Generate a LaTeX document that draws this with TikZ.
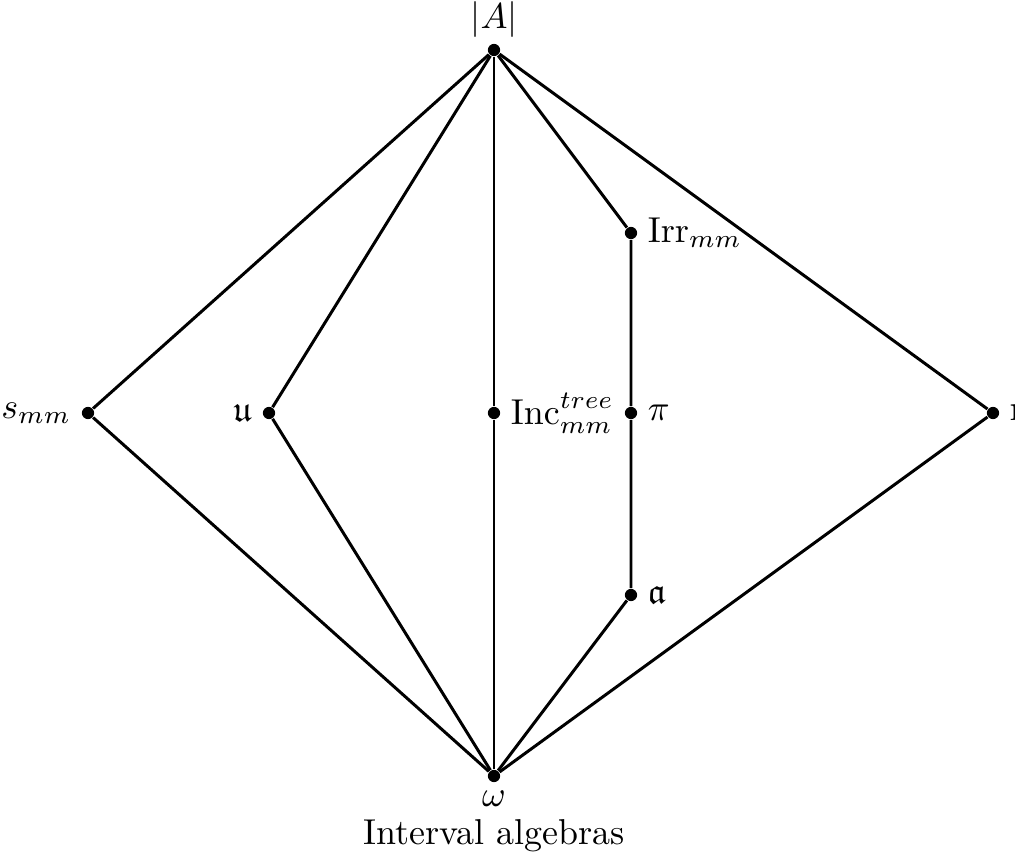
\documentclass[tikz,border=0pt]{standalone}
\usepackage{amssymb}
\begin{document}
\begin{tikzpicture}[x=0.278pt,y=-0.278pt,
  dot/.style={circle,fill=black,inner sep=0pt,minimum size=3.4pt},
  edge/.style={line width=0.83pt},
  every label/.style={inner sep=2.6pt}]
\useasboundingbox (0,0) rectangle (1015,860);
\node[dot,label={[label distance=-1.2pt]above:$|A|$}] (A) at (494,50) {};
\node[dot,label={[label distance=-0.5pt]below:$\omega$}] (w) at (494,776) {};
\node[dot,label={left:$s_{mm}$}] (s) at (88,413) {};
\node[dot,label={left:$\mathfrak{u}$}] (u) at (269,413) {};
\node[dot,label={right:$\mathrm{Inc}_{mm}^{tree}$}] (inc) at (494,413) {};
\node[dot,label={right:$\pi$}] (pi) at (631,413) {};
\node[dot,label={right:$\mathrm{Irr}_{mm}$}] (irr) at (631,233) {};
\node[dot,label={right:$\mathfrak{a}$}] (a) at (631,595) {};
\node[dot,label={right:$\mathrm{r}$}] (r) at (993,413) {};
\node (cap) at (494,836) {Interval algebras};
\draw[edge] (A) -- (s) -- (w);
\draw[edge] (A) -- (u) -- (w);
\draw[edge] (A) -- (inc) -- (w);
\draw[edge] (A) -- (irr) -- (pi) -- (a) -- (w);
\draw[edge] (A) -- (r) -- (w);
\end{tikzpicture}
\end{document}
